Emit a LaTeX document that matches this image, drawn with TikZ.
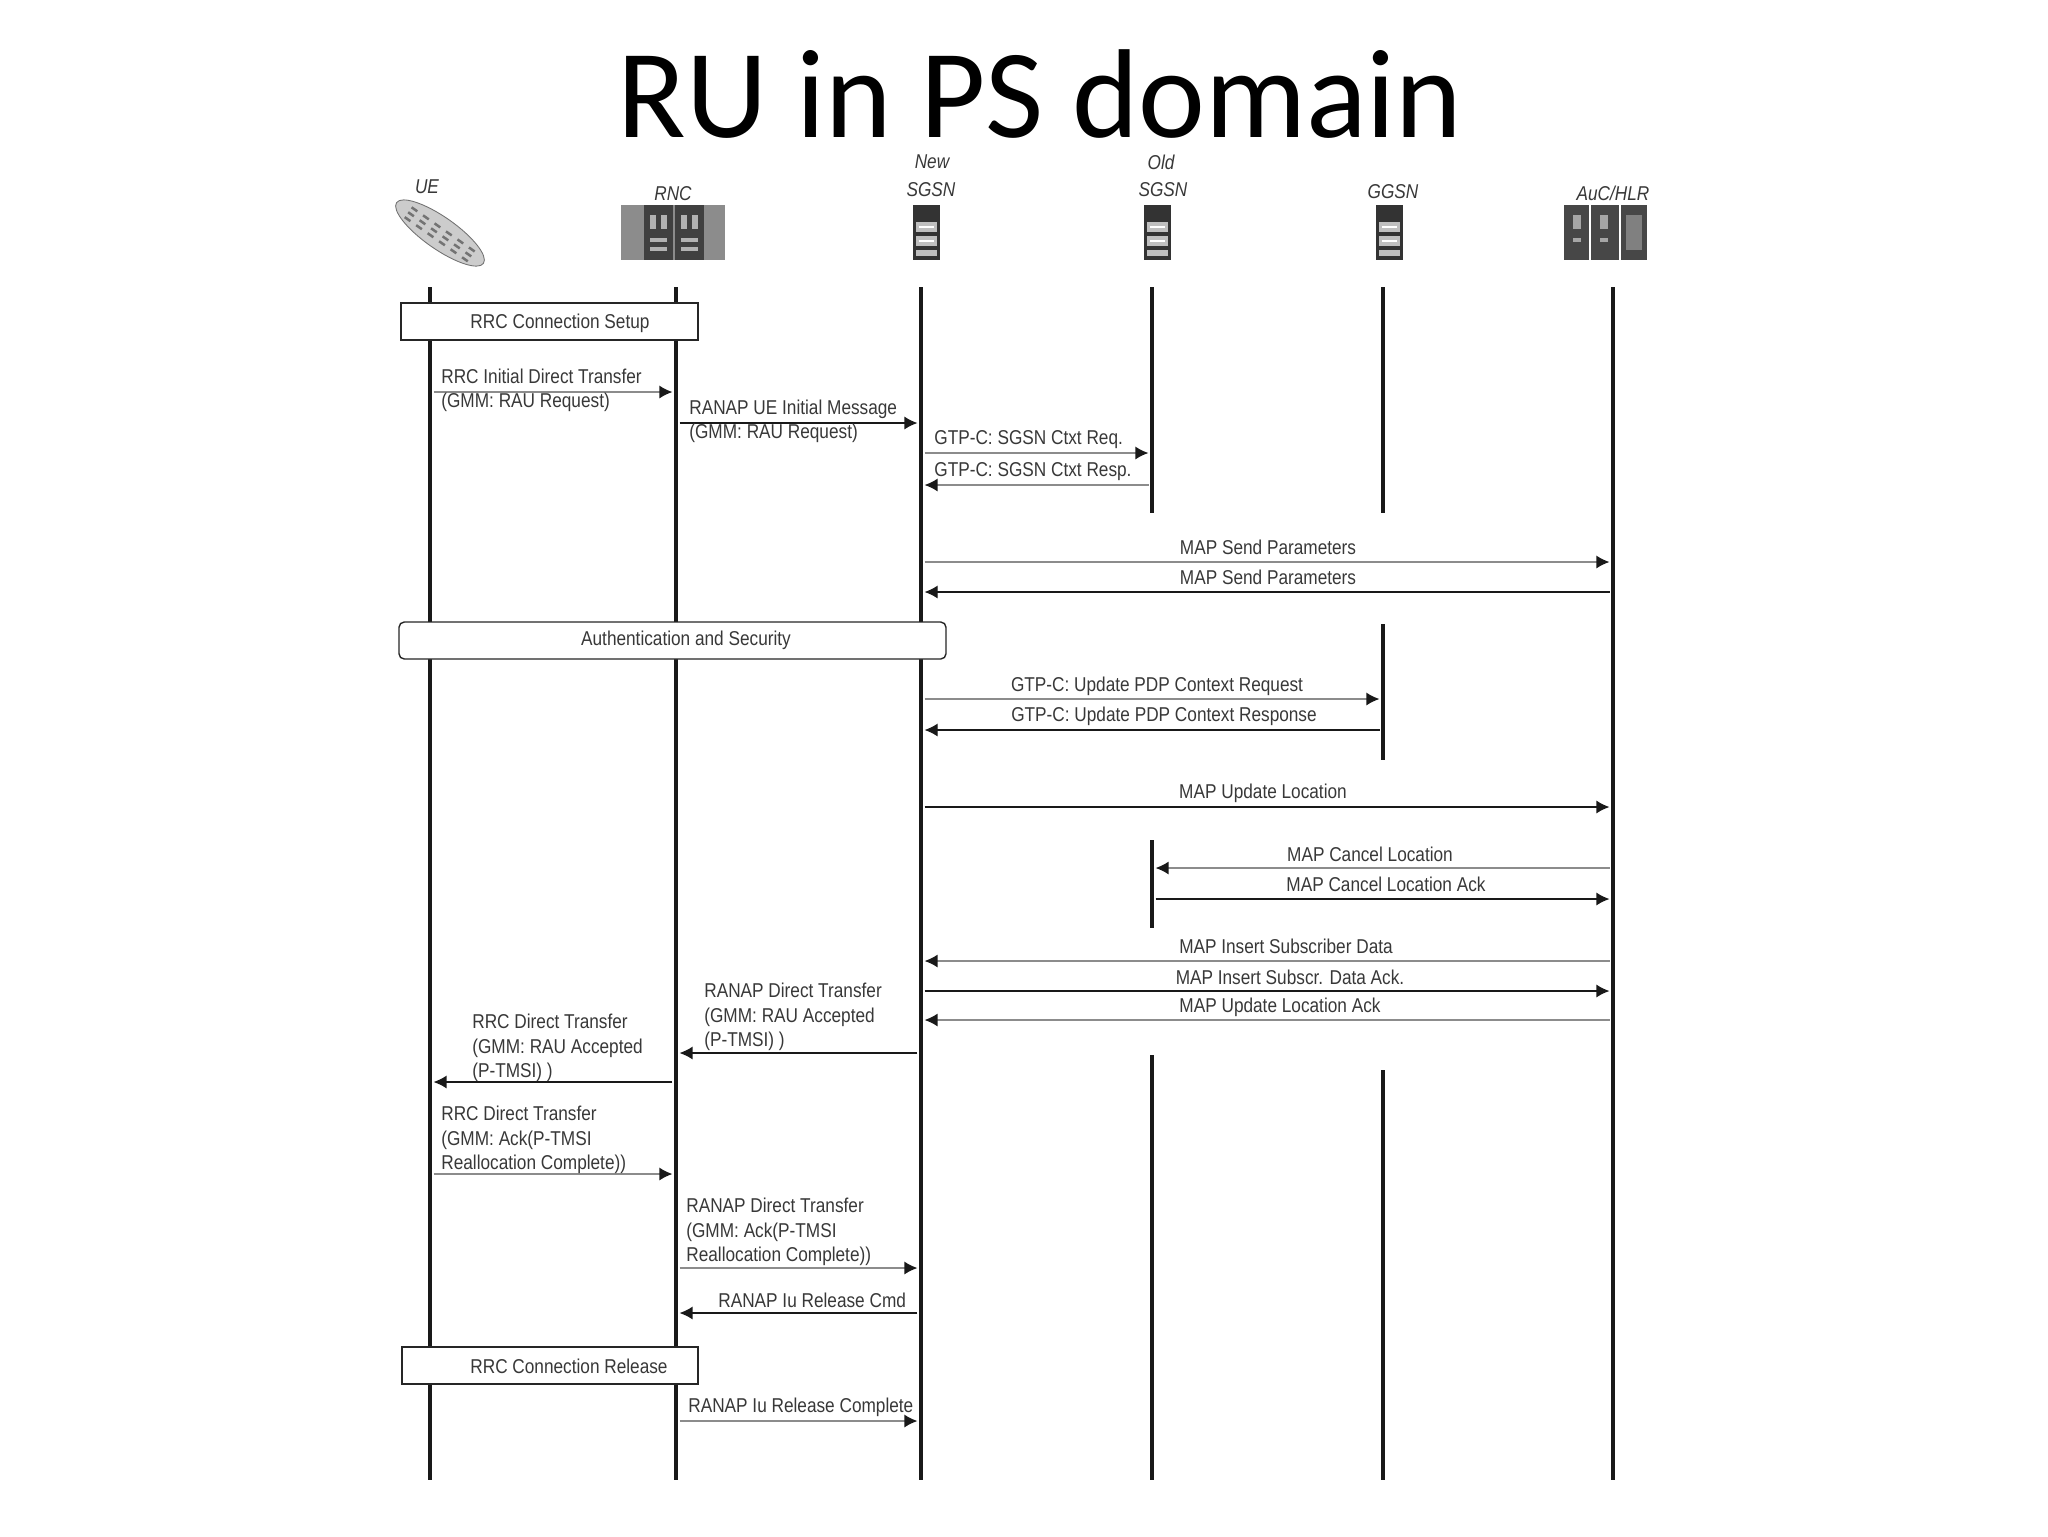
\documentclass[tikz,border=0pt]{standalone}
\usepackage{fontspec}
\usepackage{xcolor}
\usepackage{tikz}
\usetikzlibrary{arrows.meta}
\usetikzlibrary{positioning}
\setmainfont{Carlito}
\newfontfamily\lblfont[FakeStretch=0.86]{Liberation Sans}
\definecolor{inkgrey}{gray}{0.22}
\definecolor{wiregrey}{gray}{0.55}
\tikzset{>={Latex[length=7.5pt,width=7.5pt]}}
\tikzset{
  life/.style = {line width=1.8pt, black!90},
  msgdark/.style = {->, line width=0.8pt, black!90, shorten >=2pt, shorten <=2pt},
  msggrey/.style = {->, line width=0.9pt, wiregrey, shorten >=2pt, shorten <=2pt, >={Latex[length=7.5pt,width=7.5pt,color=black!90]}},
  lbl/.style = {inner sep=0pt, text=inkgrey, font=\lblfont\fontsize{11.4}{13.9}\selectfont, align=left},
  ent/.style = {inner sep=0pt, text=inkgrey, font=\lblfont\itshape\fontsize{11.4}{13.9}\selectfont},
  phase/.style = {draw=black!85, fill=white, line width=0.8pt}
}
\begin{document}
\begin{tikzpicture}[x=0.02cm, y=-0.02cm]
\useasboundingbox (0,0) rectangle (2048,1536);
\node [inner sep=0pt, anchor=base, font=\fontsize{72}{80}\selectfont] (title) at (1040,137) {RU in PS domain};
% lifelines
\coordinate (UE) at (430,287);
\coordinate (RNC) at (676,287);
\coordinate (SGSN) at (921,287);
\coordinate (OLD) at (1152,287);
\coordinate (GGSN) at (1383,287);
\coordinate (AUC) at (1613,287);
\coordinate (end) at (0,1480);
\foreach \n in {UE,RNC,SGSN,AUC} \draw [life] (\n) -- (\n |- end);
\foreach \n/\a/\b in {OLD/287/513, OLD/840/928, OLD/1055/1480, GGSN/287/513, GGSN/624/760, GGSN/1070/1480}
  \draw [life] (\n |- 0,\a) -- (\n |- 0,\b);
% entity labels
\node [ent] (lblUE) at (427,187) {UE};
\node [ent] (lblRNC) at (673,194) {RNC};
\node [ent] (lblNew) at (932,162) {New};
\node [ent] (lblNewS) at (931,190) {SGSN};
\node [ent] (lblOld) at (1161,162) {Old};
\node [ent] (lblOldS) at (1163,190) {SGSN};
\node [ent] (lblGGSN) at (1393,192) {GGSN};
\node [ent] (lblAUC) at (1613,193) {AuC/HLR};
% icons
\begin{scope}[shift={(440,233)}, rotate=-35]
\fill [black!20] (0,0) ellipse (53 and 16);
\draw [black!55, line width=0.5pt] (0,0) ellipse (53 and 16);
\foreach \x in {-38,-24,...,38} \foreach \y in {-6,0,6} \fill [black!55] (\x,\y) rectangle +(7,2.5);
\end{scope}
\fill [black!45] (621,205) rectangle (725,260);
\foreach \x in {644,675} {
  \fill [black!75] (\x,205) rectangle +(29,55);
  \fill [black!30] (\x+6,215) rectangle +(6,14);
  \fill [black!30] (\x+17,215) rectangle +(6,14);
  \fill [black!30] (\x+6,238) rectangle +(17,4);
  \fill [black!30] (\x+6,247) rectangle +(17,4);
}
\foreach \x in {913,1144,1376} {
  \fill [black!80] (\x,205) rectangle +(27,55);
  \fill [black!25] (\x+3,222) rectangle +(21,10);
  \fill [black!25] (\x+3,236) rectangle +(21,10);
  \fill [black!25] (\x+3,250) rectangle +(21,6);
  \fill [white] (\x+6,226) rectangle +(15,2);
  \fill [white] (\x+6,240) rectangle +(15,2);
}
\fill [black!72] (1564,205) rectangle (1647,260);
\foreach \x in {1590,1620} \draw [white, line width=0.8pt] (\x,205) -- (\x,260);
\foreach \x in {1570,1597} {
  \fill [black!35] (\x+3,215) rectangle +(8,14);
  \fill [black!35] (\x+3,238) rectangle +(8,4);
}
\fill [black!50] (1626,215) rectangle (1642,250);
% phase boxes
\node [phase, minimum width=297*0.02cm, minimum height=37*0.02cm, inner sep=0pt] (setup) at (549.5,321.5) {};
\node [lbl] (setupT) at (560,323) {RRC Connection Setup};
\node [phase, rounded corners=3pt, minimum width=547*0.02cm, minimum height=37*0.02cm, inner sep=0pt] (auth) at (672.5,640.5) {};
\node [lbl] (authT) at (686,640) {Authentication and Security};
\node [phase, minimum width=296*0.02cm, minimum height=37*0.02cm, inner sep=0pt] (release) at (550,1365.5) {};
\node [lbl] (releaseT) at (569,1366) {RRC Connection Release};
% messages
\foreach \y/\src/\dst/\sty in {
  392/UE/RNC/msggrey, 423/RNC/SGSN/msgdark, 453/SGSN/OLD/msggrey, 485/OLD/SGSN/msggrey,
  562/SGSN/AUC/msggrey, 592/AUC/SGSN/msgdark, 699/SGSN/GGSN/msggrey, 730/GGSN/SGSN/msgdark,
  807/SGSN/AUC/msgdark, 868/AUC/OLD/msggrey, 899/OLD/AUC/msgdark, 961/AUC/SGSN/msggrey,
  991/SGSN/AUC/msgdark, 1020/AUC/SGSN/msggrey, 1053/SGSN/RNC/msgdark, 1082/RNC/UE/msgdark,
  1174/UE/RNC/msggrey, 1268/RNC/SGSN/msggrey, 1313/SGSN/RNC/msgdark, 1421/RNC/SGSN/msggrey}
  \draw [\sty] (\src |- 0,\y) -- (\dst |- 0,\y);
% message labels
\node [lbl, anchor=west] (mOne) at (441,390.5) {RRC Initial Direct Transfer\\(GMM: RAU Request)};
\node [lbl, anchor=west] (mTwo) at (689,421.5) {RANAP UE Initial Message\\(GMM: RAU Request)};
\node [lbl, anchor=west] (mThree) at (934,440) {GTP-C: SGSN Ctxt Req.};
\node [lbl, anchor=west] (mFour) at (934,472) {GTP-C: SGSN Ctxt Resp.};
\node [lbl] (mFive) at (1268,547) {MAP Send Parameters};
\node [lbl] (mSix) at (1268,577) {MAP Send Parameters};
\node [lbl] (mSeven) at (1157,686) {GTP-C: Update PDP Context Request};
\node [lbl] (mEight) at (1164,716) {GTP-C: Update PDP Context Response};
\node [lbl] (mNine) at (1263,793) {MAP Update Location};
\node [lbl] (mTen) at (1370,854) {MAP Cancel Location};
\node [lbl] (mEleven) at (1386,884) {MAP Cancel Location Ack};
\node [lbl] (mTwelve) at (1286,946) {MAP Insert Subscriber Data};
\node [lbl] (mThirteen) at (1290,977) {MAP Insert Subscr. Data Ack.};
\node [lbl] (mFourteen) at (1280,1007) {MAP Update Location Ack};
\node [lbl, anchor=west] (mFifteen) at (704,1017) {RANAP Direct Transfer\\(GMM: RAU Accepted\\(P-TMSI) )};
\node [lbl, anchor=west] (mSixteen) at (472,1048) {RRC Direct Transfer\\(GMM: RAU Accepted\\(P-TMSI) )};
\node [lbl, anchor=west] (mSeventeen) at (441,1140) {RRC Direct Transfer\\(GMM: Ack(P-TMSI\\Reallocation Complete))};
\node [lbl, anchor=west] (mEighteen) at (686,1232) {RANAP Direct Transfer\\(GMM: Ack(P-TMSI\\Reallocation Complete))};
\node [lbl, anchor=west] (mNineteen) at (718,1300) {RANAP Iu Release Cmd};
\node [lbl, anchor=west] (mTwenty) at (688,1407) {RANAP Iu Release Complete};
\end{tikzpicture}
\end{document}
